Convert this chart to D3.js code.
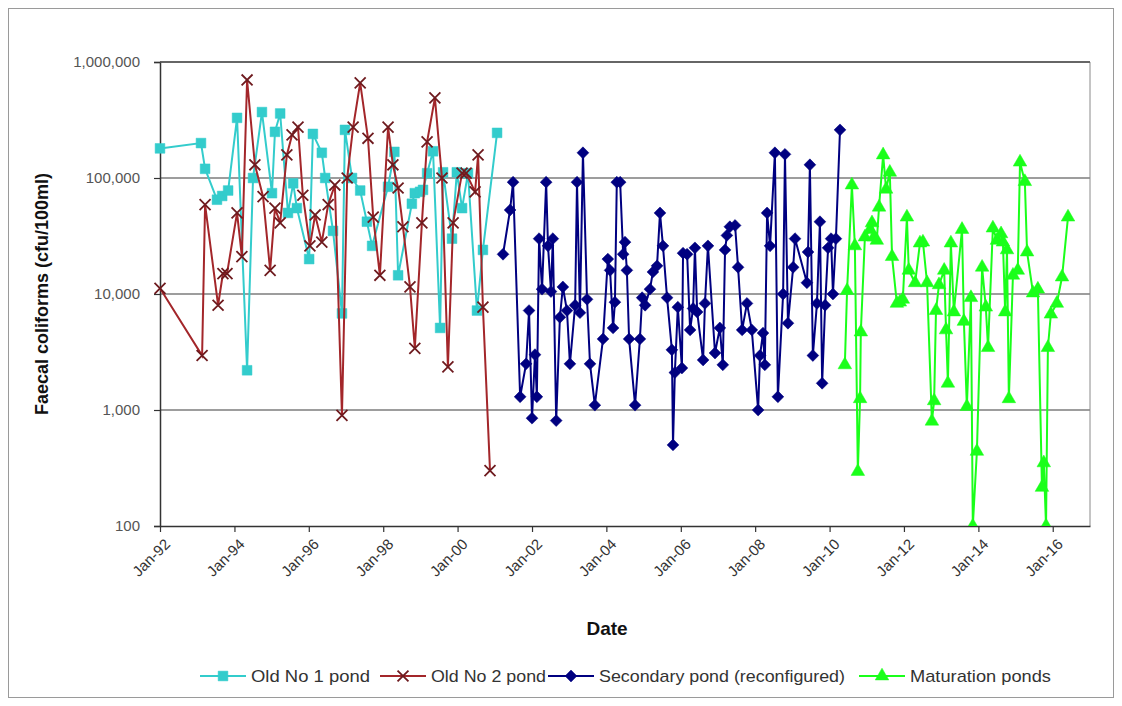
<!DOCTYPE html>
<html>
<head>
<meta charset="utf-8">
<script src="https://cdn.jsdelivr.net/npm/d3@7"></script>
<style>
  body { margin: 0; background: #fff; }
  svg { font-family: "Liberation Sans", Arial, sans-serif; }
</style>
</head>
<body>
<svg id="chart" width="1122" height="706"></svg>
<script>
// Old No 1 pond (decimal years, cfu/100ml)
const pond1Dates = [1992.00, 1993.10, 1993.21, 1993.53, 1993.67, 1993.83, 1994.07, 1994.34, 1994.50, 1994.74,
	1995.01, 1995.09, 1995.23, 1995.44, 1995.58, 1995.68, 1996.01, 1996.11, 1996.35, 1996.44,
	1996.65, 1996.89, 1996.97, 1997.16, 1997.38, 1997.56, 1997.70, 1998.13, 1998.30, 1998.40,
	1998.77, 1998.85, 1998.99, 1999.07, 1999.18, 1999.34, 1999.53, 1999.61, 1999.85, 1999.98,
	2000.12, 2000.28, 2000.52, 2000.68, 2001.06];
const pond1Values = [180000, 200000, 120000, 65000, 70000, 78000, 330000, 2200, 100000, 370000,
	74000, 250000, 360000, 50000, 90000, 55000, 20000, 240000, 165000, 100000,
	35000, 6800, 260000, 100000, 78000, 42000, 26000, 84000, 168000, 14500,
	60000, 74000, 76000, 79000, 110000, 170000, 5100, 112000, 30000, 112000,
	55000, 110000, 7200, 24000, 245000];

// Old No 2 pond
const pond2Dates = [1992.00, 1993.13, 1993.21, 1993.56, 1993.69, 1993.80, 1994.07, 1994.20, 1994.34, 1994.55,
	1994.77, 1994.96, 1995.09, 1995.23, 1995.41, 1995.55, 1995.71, 1995.84, 1996.03, 1996.17,
	1996.35, 1996.52, 1996.70, 1996.89, 1997.03, 1997.19, 1997.38, 1997.59, 1997.73, 1997.91,
	1998.13, 1998.26, 1998.40, 1998.53, 1998.72, 1998.85, 1999.04, 1999.18, 1999.39, 1999.58,
	1999.74, 1999.88, 2000.12, 2000.23, 2000.47, 2000.55, 2000.68, 2000.87];
const pond2Values = [11200, 2950, 59000, 8000, 15000, 15000, 50000, 21000, 700000, 130000,
	69000, 16000, 55000, 41000, 158000, 235000, 275000, 71000, 26000, 48000,
	28000, 59000, 87000, 900, 100000, 275000, 660000, 220000, 46000, 14500,
	275000, 130000, 82000, 38000, 11500, 3400, 41000, 205000, 490000, 100000,
	2350, 41000, 110000, 110000, 76000, 158000, 7700, 300];

// Secondary pond (reconfigured)
const secondaryDates = [2001.22, 2001.41, 2001.49, 2001.68, 2001.84, 2001.92, 2002.00, 2002.08, 2002.13, 2002.19,
	2002.27, 2002.38, 2002.43, 2002.51, 2002.56, 2002.65, 2002.75, 2002.83, 2002.94, 2003.02,
	2003.16, 2003.21, 2003.29, 2003.37, 2003.48, 2003.56, 2003.69, 2003.91, 2004.04, 2004.10,
	2004.18, 2004.23, 2004.28, 2004.37, 2004.45, 2004.50, 2004.55, 2004.61, 2004.77, 2004.90,
	2004.96, 2005.04, 2005.17, 2005.25, 2005.36, 2005.44, 2005.52, 2005.63, 2005.76, 2005.79,
	2005.84, 2005.92, 2006.03, 2006.06, 2006.17, 2006.25, 2006.33, 2006.38, 2006.44, 2006.60,
	2006.65, 2006.73, 2006.92, 2007.05, 2007.13, 2007.19, 2007.24, 2007.32, 2007.46, 2007.54,
	2007.65, 2007.78, 2007.91, 2008.08, 2008.13, 2008.21, 2008.26, 2008.32, 2008.40, 2008.53,
	2008.61, 2008.75, 2008.80, 2008.88, 2009.02, 2009.07, 2009.39, 2009.42, 2009.47, 2009.55,
	2009.66, 2009.74, 2009.80, 2009.88, 2009.96, 2010.04, 2010.09, 2010.17, 2010.28];
const secondaryValues = [22000, 53000, 92000, 1300, 2500, 7200, 850, 3000, 1300, 30000,
	11000, 92000, 26000, 10500, 30000, 810, 6300, 11500, 7200, 2500,
	8000, 92000, 6900, 165000, 9000, 2500, 1100, 4100, 20000, 16000,
	5100, 8500, 92000, 92000, 22000, 28000, 16000, 4100, 1100, 4100,
	9300, 8000, 11000, 15500, 17500, 50000, 26000, 9300, 3300, 500,
	2100, 7700, 2300, 22500, 22000, 4900, 7500, 25000, 7000, 2700,
	8300, 26000, 3100, 5100, 2450, 24000, 32000, 38000, 39000, 17000,
	4900, 8300, 4900, 1000, 2950, 4600, 2450, 50000, 26000, 165000,
	1300, 10000, 160000, 5600, 17000, 30000, 12500, 23000, 130000, 2950,
	8300, 42000, 1700, 8000, 25000, 30000, 10000, 30000, 260000];

// Maturation ponds
const maturationDates = [2010.41, 2010.47, 2010.60, 2010.68, 2010.76, 2010.82, 2010.84, 2010.95, 2011.09, 2011.14,
	2011.19, 2011.27, 2011.33, 2011.44, 2011.52, 2011.62, 2011.68, 2011.81, 2011.89, 2011.97,
	2012.08, 2012.13, 2012.30, 2012.43, 2012.51, 2012.62, 2012.75, 2012.81, 2012.86, 2012.94,
	2013.08, 2013.13, 2013.18, 2013.26, 2013.34, 2013.56, 2013.61, 2013.69, 2013.80, 2013.85,
	2013.96, 2014.10, 2014.20, 2014.26, 2014.39, 2014.50, 2014.61, 2014.66, 2014.72, 2014.77,
	2014.82, 2014.93, 2015.06, 2015.12, 2015.25, 2015.31, 2015.47, 2015.60, 2015.71, 2015.76,
	2015.82, 2015.87, 2015.95, 2016.11, 2016.25, 2016.41];
const maturationValues = [2450, 10700, 87000, 26000, 295, 1250, 4700, 31000, 36000, 41000,
	31000, 29000, 56000, 158000, 80000, 112000, 21000, 8300, 8500, 9000,
	46000, 16000, 12500, 27500, 28000, 12500, 800, 1200, 7200, 12000,
	16000, 4900, 1700, 27500, 7000, 36000, 5800, 1070, 9300, 100,
	440, 17000, 7700, 3450, 37000, 29000, 33000, 28000, 7000, 24000,
	1250, 14500, 16000, 137000, 93000, 23000, 10200, 11000, 215, 350,
	100, 3450, 6700, 8300, 14000, 46000];

const seriesNames = ["Old No 1 pond", "Old No 2 pond", "Secondary pond (reconfigured)", "Maturation ponds"];
const yTickValues = [100, 1000, 10000, 100000, 1000000];

// decimal year -> Date
function yearToDate(y) {
	let yr = Math.floor(y);
	let start = new Date(yr, 0, 1), end = new Date(yr + 1, 0, 1);
	return new Date(+start + (y - yr) * (end - start));
}

let svg = d3.select("#chart");
let plotLeft = 160, plotRight = 1090, plotTop = 62, plotBottom = 526;

let x = d3.scaleTime()
	.domain([new Date(1992, 0, 1), new Date(2017, 0, 1)])
	.range([plotLeft, plotRight]);
let y = d3.scaleLog()
	.domain([100, 1000000])
	.range([plotBottom, plotTop]);

// chart frame
svg.append("rect")
	.attr("x", 8.5).attr("y", 8.5)
	.attr("width", 1105).attr("height", 689)
	.attr("fill", "none").attr("stroke", "#9a9a9a").attr("stroke-width", 1);

svg.append("defs").append("clipPath").attr("id", "plotClip")
	.append("rect")
	.attr("x", plotLeft - 8).attr("y", plotTop - 8)
	.attr("width", plotRight - plotLeft + 16).attr("height", plotBottom - plotTop + 8);

// gridlines
svg.append("g")
	.selectAll("line")
	.data(yTickValues.filter(d => d > 100))
	.join("line")
	.attr("x1", plotLeft).attr("x2", plotRight)
	.attr("y1", d => y(d)).attr("y2", d => y(d))
	.attr("stroke", "#3c3c3c").attr("stroke-width", 1.2);

// right border of plot area
svg.append("line")
	.attr("x1", plotRight).attr("x2", plotRight)
	.attr("y1", plotTop).attr("y2", plotBottom)
	.attr("stroke", "#8a8a8a").attr("stroke-width", 1);

// axes
let yAxis = d3.axisLeft(y)
	.tickValues(yTickValues)
	.tickFormat(d3.format(","))
	.tickSize(6)
	.tickPadding(14);
let gy = svg.append("g")
	.attr("transform", "translate(" + plotLeft + ",0)")
	.call(yAxis);
gy.select(".domain").attr("stroke", "#333").attr("stroke-width", 1.5);
gy.selectAll(".tick line").attr("stroke", "#333").attr("stroke-width", 1.2);
gy.selectAll("text")
	.attr("fill", "#555")
	.style("font-size", "15px");

let xAxis = d3.axisBottom(x)
	.ticks(d3.timeYear.every(2))
	.tickFormat(d3.timeFormat("%b-%y"))
	.tickSize(6)
	.tickSizeOuter(0);
let gx = svg.append("g")
	.attr("transform", "translate(0," + plotBottom + ")")
	.call(xAxis);
gx.select(".domain").attr("stroke", "#333").attr("stroke-width", 1.5);
gx.selectAll(".tick line").attr("stroke", "#333").attr("stroke-width", 1.2);
gx.selectAll("text")
	.attr("fill", "#333")
	.style("font-size", "15px")
	.style("text-anchor", "end")
	.attr("dx", "-0.4em")
	.attr("dy", "0.8em")
	.attr("transform", "rotate(-45)");

// top border
svg.append("line")
	.attr("x1", plotLeft).attr("x2", plotRight)
	.attr("y1", plotTop).attr("y2", plotTop)
	.attr("stroke", "#555").attr("stroke-width", 1.5);

// axis titles
svg.append("text")
	.attr("transform", "translate(48," + ((plotTop + plotBottom) / 2) + ") rotate(-90)")
	.attr("text-anchor", "middle")
	.style("font-size", "18px")
	.style("font-weight", "bold")
	.attr("fill", "#111")
	.text("Faecal coliforms  (cfu/100ml)");

svg.append("text")
	.attr("x", 607).attr("y", 635)
	.attr("text-anchor", "middle")
	.style("font-size", "19px")
	.style("font-weight", "bold")
	.attr("fill", "#111")
	.text("Date");

// series
let series = [
	{name: seriesNames[0], dates: pond1Dates, values: pond1Values, color: "#33cccc", markColor: "#33cccc", symbol: d3.symbolSquare, size: 95, rotate: 0, stroke: false},
	{name: seriesNames[1], dates: pond2Dates, values: pond2Values, color: "#a3262a", markColor: "#6e1a1e", symbol: d3.symbolTimes, size: 80, rotate: 0, stroke: true},
	{name: seriesNames[2], dates: secondaryDates, values: secondaryValues, color: "#000080", markColor: "#000080", symbol: d3.symbolSquare, size: 70, rotate: 45, stroke: false},
	{name: seriesNames[3], dates: maturationDates, values: maturationValues, color: "#1aff1a", markColor: "#1aff1a", symbol: d3.symbolTriangle, size: 80, rotate: 0, stroke: false}
];

let line = d3.line()
	.x(d => x(d.date))
	.y(d => y(Math.max(d.value, 90)));

let plot = svg.append("g").attr("clip-path", "url(#plotClip)");

series.forEach(function(s) {
	let pts = s.dates.map((d, i) => ({date: yearToDate(d), value: s.values[i]}));
	let g = plot.append("g");
	g.append("path")
		.datum(pts)
		.attr("fill", "none")
		.attr("stroke", s.color)
		.attr("stroke-width", 2)
		.attr("d", line);
	let sym = d3.symbol().type(s.symbol).size(s.size);
	g.selectAll("path.mark")
		.data(pts)
		.join("path")
		.attr("class", "mark")
		.attr("transform", d => "translate(" + x(d.date) + "," + y(Math.max(d.value, 90)) + ") rotate(" + s.rotate + ")")
		.attr("d", sym)
		.attr("fill", s.stroke ? "none" : s.markColor)
		.attr("stroke", s.markColor)
		.attr("stroke-width", s.stroke ? 1.8 : 0.5);
});

// legend
let legendX = [200, 380, 548, 859];
let legendTextLen = [119, 115, 246, 141];
let legend = svg.append("g");
series.forEach(function(s, i) {
	let lg = legend.append("g").attr("transform", "translate(" + legendX[i] + ",676)");
	lg.append("line")
		.attr("x1", 0).attr("x2", 46)
		.attr("stroke", s.color).attr("stroke-width", 2);
	lg.append("path")
		.attr("transform", "translate(23,0) rotate(" + s.rotate + ")")
		.attr("d", d3.symbol().type(s.symbol).size(s.size)())
		.attr("fill", s.stroke ? "none" : s.markColor)
		.attr("stroke", s.markColor)
		.attr("stroke-width", s.stroke ? 1.8 : 0.5);
	lg.append("text")
		.attr("x", 51).attr("y", 6)
		.attr("textLength", legendTextLen[i])
		.attr("lengthAdjust", "spacingAndGlyphs")
		.style("font-size", "17px")
		.attr("fill", "#333")
		.text(s.name);
});
</script>
</body>
</html>
